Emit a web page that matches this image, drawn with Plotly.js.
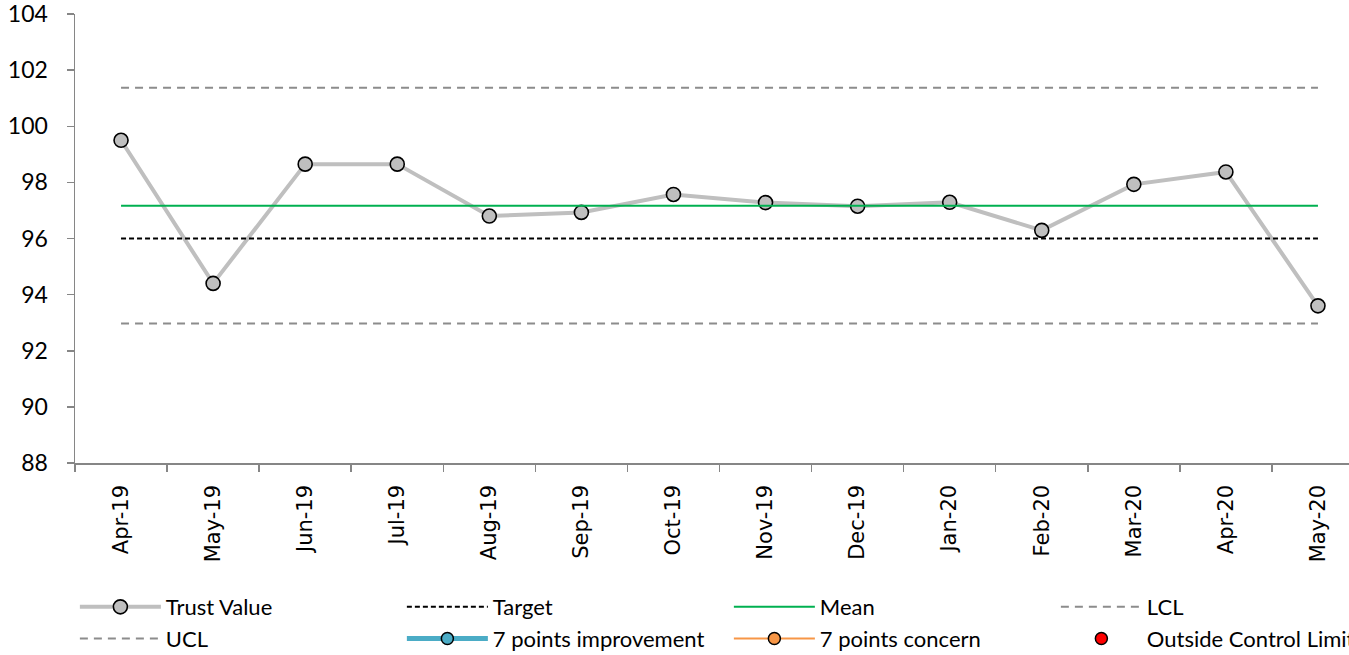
<!DOCTYPE html>
<html>
<head>
<meta charset="utf-8">
<script src="https://cdn.plot.ly/plotly-3.0.1.min.js"></script>
<style>
html, body { margin: 0; padding: 0; overflow: hidden; background: #fff; }
#chart { width: 1420px; height: 655px; }
</style>
</head>
<body>
<div id="chart"></div>
<script>
const categories = ["Apr-19","May-19","Jun-19","Jul-19","Aug-19","Sep-19","Oct-19","Nov-19","Dec-19","Jan-20","Feb-20","Mar-20","Apr-20","May-20"];
const trustValue = [99.5, 94.4, 98.65, 98.65, 96.8, 96.93, 97.57, 97.28, 97.15, 97.29, 96.29, 97.93, 98.37, 93.6];
const target = [96, 96, 96, 96, 96, 96, 96, 96, 96, 96, 96, 96, 96, 96];
const mean = [97.17, 97.17, 97.17, 97.17, 97.17, 97.17, 97.17, 97.17, 97.17, 97.17, 97.17, 97.17, 97.17, 97.17];
const lcl = [92.97, 92.97, 92.97, 92.97, 92.97, 92.97, 92.97, 92.97, 92.97, 92.97, 92.97, 92.97, 92.97, 92.97];
const ucl = [101.37, 101.37, 101.37, 101.37, 101.37, 101.37, 101.37, 101.37, 101.37, 101.37, 101.37, 101.37, 101.37, 101.37];
const improvement7 = [null, null, null, null, null, null, null, null, null, null, null, null, null, null];
const concern7 = [null, null, null, null, null, null, null, null, null, null, null, null, null, null];
const outsideLimits = [null, null, null, null, null, null, null, null, null, null, null, null, null, null];
const yTicks = [88, 90, 92, 94, 96, 98, 100, 102, 104];

const traces = [
  {name: "Trust Value", x: categories, y: trustValue, mode: "lines+markers",
   line: {color: "#BFBFBF", width: 4},
   marker: {size: 14, color: "#BFBFBF", line: {color: "#000", width: 1.6}}},
  {name: "Target", x: categories, y: target, mode: "lines",
   line: {color: "#000", width: 2, dash: "5px,3px"}},
  {name: "Mean", x: categories, y: mean, mode: "lines",
   line: {color: "#00B050", width: 2}},
  {name: "LCL", x: categories, y: lcl, mode: "lines",
   line: {color: "#8C8C8C", width: 2, dash: "8px,6px"}},
  {name: "UCL", x: categories, y: ucl, mode: "lines",
   line: {color: "#8C8C8C", width: 2, dash: "8px,6px"}},
  {name: "7 points improvement", x: categories, y: improvement7, mode: "lines+markers",
   line: {color: "#4BACC6", width: 5},
   marker: {size: 12, color: "#4BACC6", line: {color: "#000", width: 1.5}}},
  {name: "7 points concern", x: categories, y: concern7, mode: "lines+markers",
   line: {color: "#F79646", width: 2},
   marker: {size: 12, color: "#F79646", line: {color: "#000", width: 1.5}}},
  {name: "Outside Control Limits", x: categories, y: outsideLimits, mode: "markers",
   marker: {size: 12, color: "#FF0000", line: {color: "#000", width: 1.5}}}
];

const layout = {
  width: 1420, height: 655,
  margin: {l: 75, r: 56, t: 14, b: 192, autoexpand: false},
  paper_bgcolor: "#fff", plot_bgcolor: "#fff",
  showlegend: true,
  font: {family: "Lato, sans-serif", size: 22, color: "#000"},
  xaxis: {
    type: "category", range: [-0.5, 13.5],
    showline: true, linecolor: "#868686", linewidth: 1.5,
    ticks: "outside", ticklen: 7, tickcolor: "#868686", tickwidth: 1.5,
    tickson: "boundaries", tickangle: -90, ticklabelstandoff: 12,
    tickfont: {family: "DejaVu Sans, sans-serif", size: 21, color: "#000"},
    showgrid: false, zeroline: false, fixedrange: true
  },
  yaxis: {
    range: [88, 104], tickvals: yTicks, ticktext: yTicks.map(String),
    showline: true, linecolor: "#868686", linewidth: 1.5,
    ticks: "outside", ticklen: 7, tickcolor: "#868686", tickwidth: 1.5,
    ticklabelstandoff: 14, ticklabeloverflow: "allow",
    tickfont: {family: "Lato, sans-serif", size: 23, color: "#000"},
    showgrid: false, zeroline: false, fixedrange: true
  },
  legend: {
    orientation: "h",
    x: -0.0001, xanchor: "left", y: -0.274, yanchor: "top",
    entrywidth: 231, entrywidthmode: "pixels", itemwidth: 81,
    font: {family: "Lato, sans-serif", size: 22, color: "#000"},
    tracegroupgap: 0, traceorder: "normal"
  }
};

Plotly.newPlot("chart", traces, layout, {displayModeBar: false, staticPlot: true});
</script>
</body>
</html>
